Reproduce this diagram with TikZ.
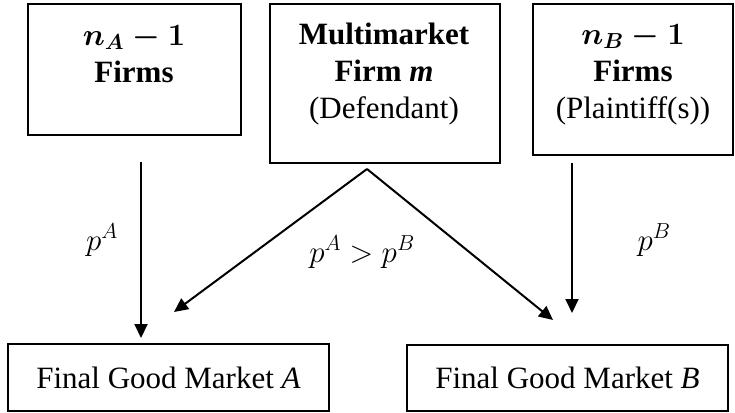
\RequirePackage{fix-cm}
\documentclass[tikz,border=0pt]{standalone}
\usepackage{fontspec}
\setmainfont{Liberation Serif}
\usetikzlibrary{arrows.meta}
\begin{document}
\begin{tikzpicture}[x=1pt,y=-1pt,
  box/.style={draw, line width=1.6pt, inner sep=0pt},
  txt/.style={inner sep=0pt, align=center, anchor=north, font=\fontsize{31}{37}\selectfont},
  lbl/.style={inner sep=0pt, anchor=base, font=\fontsize{31}{37}\selectfont},
  arr/.style={line width=2pt, -{Triangle[length=14pt,width=13pt]}}]
\useasboundingbox[fill=white] (0,0) rectangle (735,412);
% top boxes
\node[box, minimum width=213pt, minimum height=131pt] (b1) at (134.5,69.5) {};
\node[box, minimum width=230pt, minimum height=159pt] (b2) at (385,83.5) {};
\node[box, minimum width=200pt, minimum height=151pt] (b3) at (633,79.5) {};
\node[txt] (t1) at (134,25) {{\boldmath$n_A-1$}\\\textbf{Firms}};
\node[txt] (t2) at (384,23) {\textbf{Multimarket}\\\textbf{Firm \textit{m}}\\(Defendant)};
\node[txt] (t3) at (633,24) {{\boldmath$n_B-1$}\\\textbf{Firms}\\(Plaintiff(s))};
% bottom boxes
\node[box, minimum width=321pt, minimum height=67pt, font=\fontsize{31}{37}\selectfont] (mA) at (168.5,377.5) {Final Good Market \textit{A}};
\node[box, minimum width=321pt, minimum height=66pt, font=\fontsize{31}{37}\selectfont] (mB) at (567.5,378) {Final Good Market \textit{B}};
% connector end points
\coordinate (a1s) at (141,162);
\coordinate (a1e) at (141,338);
\coordinate (apex) at (367,169);
\coordinate (a2e) at (174,312);
\coordinate (a3e) at (553,320);
\coordinate (a4s) at (572,163);
\coordinate (a4e) at (572,313);
\draw[arr] (a1s) -- (a1e);
\draw[arr] (apex) -- (a2e);
\draw[arr] (apex) -- (a3e);
\draw[arr] (a4s) -- (a4e);
% labels
\node[lbl] (lA) at (102,250) {$p^A$};
\node[lbl] (lAB) at (362,262) {$p^A > p^B$};
\node[lbl] (lB) at (654,250) {$p^B$};
\end{tikzpicture}
\end{document}
